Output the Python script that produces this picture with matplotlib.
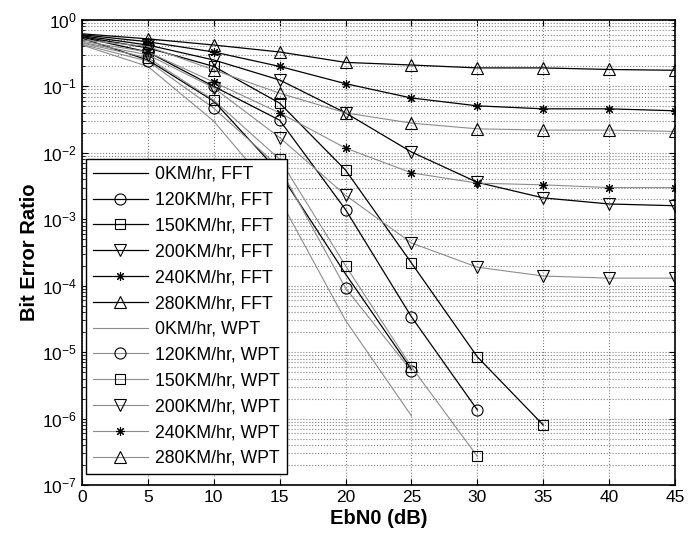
import numpy as np
import matplotlib.pyplot as plt
from matplotlib.ticker import LogLocator, NullFormatter

plt.rcParams["font.family"] = ["Liberation Sans", "DejaVu Sans"]
plt.rcParams["mathtext.default"] = "regular"

EBN0 = [0, 5, 10, 15, 20, 25, 30, 35, 40, 45]

# FFT curves (black)
fft_0 = [0.53, 0.25, 0.06, 0.005, 1.5e-4, 5.5e-6]
fft_120 = [0.55, 0.33, 0.10, 0.031, 0.0014, 3.4e-5, 1.35e-6]
fft_150 = [0.56, 0.38, 0.20, 0.056, 0.0055, 2.2e-4, 8.5e-6, 8.0e-7]
fft_200 = [0.58, 0.42, 0.25, 0.125, 0.040, 0.0103, 0.0036, 0.0021, 0.0017, 0.0016]
fft_240 = [0.60, 0.47, 0.33, 0.20, 0.11, 0.067, 0.051, 0.046, 0.046, 0.043]
fft_280 = [0.62, 0.52, 0.42, 0.33, 0.23, 0.21, 0.19, 0.19, 0.18, 0.175]

# WPT curves (gray)
wpt_0 = [0.42, 0.20, 0.03, 0.002, 3e-5, 1.1e-6]
wpt_120 = [0.43, 0.24, 0.047, 0.006, 9.2e-5, 5.2e-6]
wpt_150 = [0.45, 0.27, 0.062, 0.008, 2.0e-4, 6.0e-6, 2.7e-7]
wpt_200 = [0.46, 0.30, 0.095, 0.017, 0.0023, 4.4e-4, 1.9e-4, 1.4e-4, 1.3e-4, 1.3e-4]
wpt_240 = [0.48, 0.33, 0.116, 0.040, 0.0118, 0.005, 0.0035, 0.0033, 0.003, 0.003]
wpt_280 = [0.50, 0.40, 0.177, 0.079, 0.040, 0.028, 0.023, 0.022, 0.022, 0.021]

fft_series = [fft_0, fft_120, fft_150, fft_200, fft_240, fft_280]
wpt_series = [wpt_0, wpt_120, wpt_150, wpt_200, wpt_240, wpt_280]
speeds = ["0", "120", "150", "200", "240", "280"]
markers = ["None", "o", "s", "v", (8, 2, 0), "^"]
msizes = [7, 8, 7.5, 8, 6.5, 8.5]

fig = plt.figure(figsize=(6.95, 5.39), dpi=100)
ax = fig.add_axes([82 / 695, 1 - 485 / 539, 593 / 695, 465 / 539])

for series, speed, mk, ms in zip(fft_series, speeds, markers, msizes):
    ax.semilogy(EBN0[:len(series)], series, color="black", lw=0.9,
                marker=mk, ms=ms, mfc="none", mec="black", mew=0.8,
                markevery=slice(1, None), label=f"{speed}KM/hr, FFT")

for series, speed, mk, ms in zip(wpt_series, speeds, markers, msizes):
    ax.semilogy(EBN0[:len(series)], series, color="#8c8c8c", lw=0.8,
                marker=mk, ms=ms, mfc="none", mec="black", mew=0.8,
                markevery=slice(1, None), label=f"{speed}KM/hr, WPT")

ax.set_xlim(0, 45)
ax.set_ylim(1e-7, 1)
ax.set_xticks(range(0, 46, 5))
ax.yaxis.set_major_locator(LogLocator(base=10, numticks=10))
ax.yaxis.set_minor_locator(LogLocator(base=10, subs=np.arange(2, 10), numticks=20))
ax.yaxis.set_minor_formatter(NullFormatter())

ax.grid(True, which="major", color="#808080", ls=":", lw=0.8)
ax.grid(True, which="minor", axis="y", color="#808080", ls=":", lw=0.8)
ax.tick_params(which="both", direction="in", top=True, right=True, labelsize=12.5)
ax.tick_params(which="major", length=4)
ax.tick_params(which="minor", length=2.5)
for sp in ax.spines.values():
    sp.set_linewidth(1.2)

ax.set_xlabel("EbN0 (dB)", fontsize=14.5, fontweight="bold", labelpad=3)
ax.set_ylabel("Bit Error Ratio", fontsize=14.5, fontweight="bold", labelpad=2)

leg = ax.legend(loc="lower left", bbox_to_anchor=(86 / 695, 1 - 474 / 539),
                bbox_transform=fig.transFigure, borderaxespad=0, fontsize=12.7,
                frameon=True, fancybox=False, edgecolor="black",
                handlelength=3.1, handletextpad=0.4, labelspacing=0.5,
                borderpad=0.4)
leg.get_frame().set_linewidth(1.0)
leg.get_frame().set_alpha(1)

fig.savefig("out.png", dpi=100)
